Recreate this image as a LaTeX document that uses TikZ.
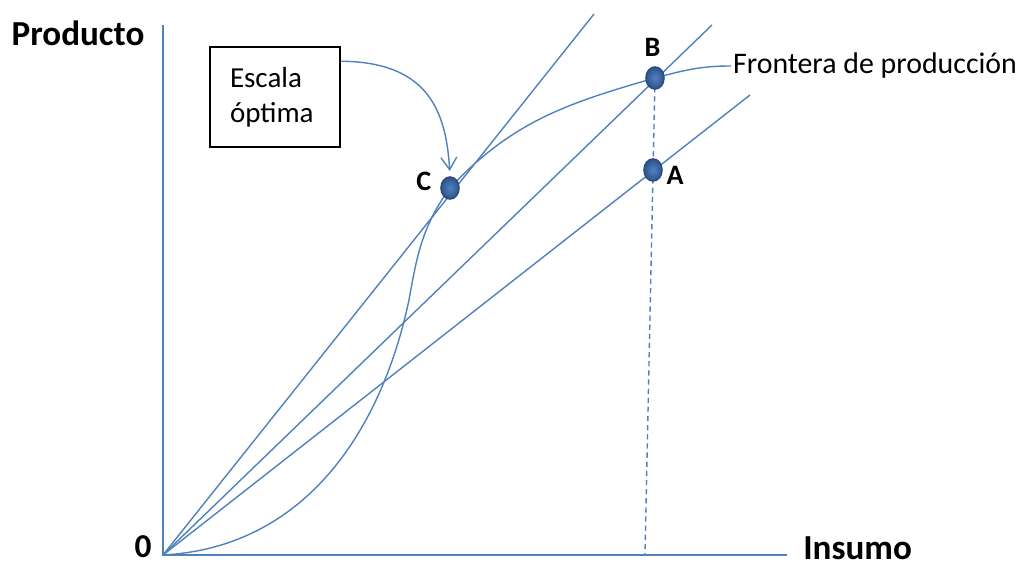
\documentclass[tikz,border=0pt]{standalone}
\usepackage{fontspec}
\setmainfont{Carlito}
\usetikzlibrary{positioning,shapes.geometric,arrows.meta}

\definecolor{axisblue}{RGB}{79,129,189}
\definecolor{dotin}{RGB}{80,130,190}
\definecolor{dotout}{RGB}{45,82,138}
\definecolor{dotedge}{RGB}{38,68,118}

\begin{document}
\begin{tikzpicture}[x=0.02cm,y=0.02cm,
  axis/.style={axisblue,line width=1.2pt},
  ray/.style={axisblue,line width=0.8pt},
  dot/.style={ellipse,draw=dotedge,line width=0.6pt,inner color=dotin,outer color=dotout,
    minimum width=0.37cm,minimum height=0.45cm,inner sep=0pt},
  ptlabel/.style={font=\fontsize{16}{19}\selectfont\bfseries,inner sep=2pt},
  axlabel/.style={font=\fontsize{20}{24}\selectfont\bfseries,inner sep=0pt},
  note/.style={font=\fontsize{16.5}{20}\selectfont},
  notebox/.style={note,draw,line width=0.9pt,minimum width=2.6cm,minimum height=2cm,
    text width=1.8cm,align=left,inner xsep=0.4cm}]

\useasboundingbox (0,0) rectangle (1022,567);

% axes
\coordinate (O) at (163,12);
\coordinate (ytop) at (163,542);
\coordinate (xend) at (787,12);
\draw[axis] (ytop) -- (O) -- (xend);
\node[axlabel] (producto) at (78,534) {Producto};
\node[axlabel,anchor=base west] (insumo) at (803,7) {Insumo};
\node[axlabel,font=\fontsize{19}{22}\selectfont\bfseries,anchor=base,inner sep=1pt] (cero) at (143,9) {0};

% rays from the origin
\coordinate (r1) at (594,553);
\coordinate (r2) at (712,542);
\coordinate (r3) at (750,472);
\draw[ray] (O) -- (r1);
\draw[ray] (O) -- (r2);
\draw[ray] (O) -- (r3);

% points on the frontier
\coordinate (pc) at (450,379);
\coordinate (pb) at (655,489);
\coordinate (pa) at (653,397);
\coordinate (foot) at (645,12);

% dashed drop from B
\draw[ray,dashed,dash pattern=on 3pt off 2.2pt] (pb) -- (foot);

% production frontier
\node[note,font=\fontsize{17}{20}\selectfont,anchor=west,inner sep=1pt] (frontera) at (731,501) {Frontera de producción};
\draw[ray]
   (O) to[out=3,in=258] (409,267)
   to[out=80,in=234] (pc)
   to[out=47,in=196] (pb)
   to[out=15,in=180] (frontera.west);

\node[dot] (C) at (pc) {};
\node[dot] (B) at (pb) {};
\node[dot] (A) at (pa) {};
\node[ptlabel,left=0.1cm of C,yshift=0.14cm] (lc) {C};
\node[ptlabel,above=0.12cm of B,xshift=-0.05cm] (lb) {B};
\node[ptlabel,right=0cm of A,yshift=-0.1cm] (la) {A};

% box and arrow
\node[notebox] (escala) at (275,470) {Escala\\óptima};
\draw[ray,-{Straight Barb[length=7pt,width=9pt]},shorten >=3pt]
   ([yshift=-0.3cm]escala.north east) .. controls (425,505) and (446,460) .. (C.north);

\end{tikzpicture}
\end{document}
